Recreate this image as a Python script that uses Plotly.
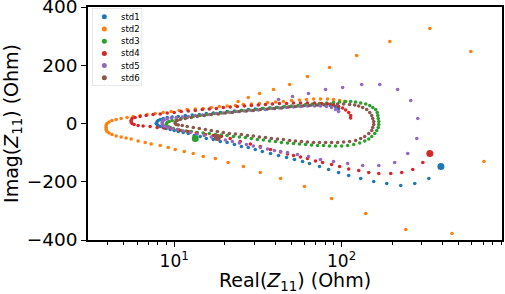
import plotly.graph_objects as go

# ---------------- data (Real(Z11), Imag(Z11)) in Ohm ----------------
names = ["std1", "std2", "std3", "std4", "std5", "std6"]
colors = ["#1f77b4", "#ff7f0e", "#2ca02c", "#d62728", "#9467bd", "#8c564b"]

std1_re = [331.9, 273.5, 225.5, 186, 155.5, 130, 110.2, 95.9, 83.6, 73.8, 64.3, 58.4, 52.3, 46.9, 42.0,
           37.6, 33.6, 30.5, 27.7, 25.2, 22.9, 20.7, 18.85, 17.1, 15.55, 14.3, 13.18, 12.13, 11.32, 10.57,
           10.0, 9.46, 8.96, 8.59, 8.25, 8.02, 7.91, 7.80,
           7.91, 8.02, 8.25, 8.59, 9.08, 9.72, 10.57, 11.64, 12.82, 14.12, 15.55, 17.1, 18.85, 20.7, 22.9,
           25.2, 27.7, 30.5, 33.6, 37.1, 40.8, 44.9, 49.5, 54.5, 60.0, 66.1, 72.8, 79.1, 85.9, 92.0, 95.9]
std1_im = [-188.8, -206, -212.8, -206, -199.1, -188.8, -178.5, -168.2, -157.9, -147.6, -137.3, -130.5,
           -123.6, -116.7, -109.9, -103, -96.1, -89.3, -82.4, -79, -72.1, -65.2, -61.8, -54.9, -51.5,
           -44.6, -41.2, -34.3, -30.9, -27.5, -24, -20.6, -17.2, -13.7, -10.3, -6.9, -3.4, 0,
           6.9, 10.3, 13.7, 17.2, 20.6, 22.3, 24, 27.5, 29.2, 30.9, 34.3, 36, 37.8, 41.2, 42.9, 44.6,
           48.1, 49.8, 51.5, 53.2, 54.9, 56.6, 58.4, 60.1, 61.8, 63.5, 63.5, 63.5, 61.8, 58.4, 51.5]

std2_re = [3.92, 3.92, 3.97, 4.08, 4.25, 4.50, 4.82, 5.23, 5.68, 6.26, 6.89, 7.70, 8.59, 9.59, 10.71,
           11.96, 13.36, 14.9, 16.66, 18.6, 20.7, 23.2, 25.9, 28.9, 32.3, 36.1, 40.3, 44.9, 50.2, 56.0,
           61.7, 68.0, 74.8, 82.4, 89.5, 97.3, 104.2,
           24.1, 27.7, 32.3, 39.2, 48.9, 62.5, 84.7, 123, 194, 336.5, 591, 708,
           3.92, 3.97, 4.08, 4.25, 4.50, 4.82, 5.16, 5.53, 6.09, 6.71, 7.28, 8.25, 9.21, 10.14, 11.48,
           13.0, 14.9, 17.6, 21.0, 25.9, 32.7, 43.2, 60.0, 87.1, 139.3, 241.5, 456]
std2_im = [-13.7, -6.9, 0, 5.1, 10.3, 13.7, 17.2, 20.6, 24, 27.5, 30.9, 34.3, 37.8, 41.2, 44.6, 48.1,
           49.8, 51.5, 54.9, 58.4, 60.1, 61.8, 65.2, 66.9, 68.7, 72.1, 73.8, 75.5, 79, 80.7, 82.4, 84.1,
           84.1, 84.1, 82.4, 79, 75.5,
           75.5, 89.3, 103, 116.7, 133.9, 161.4, 192.2, 233.4, 281.5, 326.1, 247.2, -130.5,
           -20.6, -27.5, -32.6, -37.8, -42.9, -46.3, -49.8, -53.2, -60.1, -65.2, -70.4, -75.5, -82.4,
           -89.3, -96.1, -103, -113.3, -120.2, -133.9, -147.6, -168.2, -188.8, -216.3, -257.5, -309,
           -363.9, -377.6]

std3_re = [8.96, 8.96, 9.08, 9.33, 9.72, 10.28, 11.01, 11.96, 13.0, 14.3, 15.76, 17.36, 19.1, 21.0, 23.2,
           25.5, 28.1, 31.0, 34.1, 37.6, 41.4, 45.6, 50.2, 55.3, 60.9, 67.0, 73.8, 81.3, 89.5, 97.3,
           105.7, 113.2, 121.3, 130, 139.3, 147.2, 153.4, 159.8, 163.2, 164.4, 165.5, 166.7, 166.7,
           165.5, 162.1, 157.7, 151.3, 145.2, 137.4, 128.2, 118, 108.6, 100, 92.0, 84.7, 78.0, 71.8,
           66.1, 60.9, 56.0, 51.6, 47.5, 43.7, 40.3, 37.1, 34.1, 31.4, 28.9, 26.6, 24.5, 22.6, 20.7,
           19.1, 17.6, 16.2, 14.9, 13.73, 12.64, 11.8, 11.01, 10.42, 9.86, 9.46, 9.21]
std3_im = [-6.9, -1.7, 3.4, 6.9, 10.3, 13.7, 17.2, 20.6, 24, 27.5, 30.9, 34.3, 36, 39.5, 41.2, 44.6,
           46.3, 48.1, 51.5, 53.2, 54.9, 58.4, 60.1, 61.8, 65.2, 66.9, 68.7, 70.4, 72.1, 73.8, 75.5,
           75.5, 73.8, 70.4, 66.9, 61.8, 54.9, 48.1, 37.8, 27.5, 17.2, 6.9, -3.4, -13.7, -24, -34.3,
           -44.6, -53.2, -60.1, -66.9, -72.1, -75.5, -77.2, -77.2, -77.2, -75.5, -75.5, -73.8, -72.1,
           -70.4, -68.7, -66.9, -65.2, -61.8, -60.1, -56.6, -54.9, -51.5, -48.1, -46.3, -44.6, -41.2,
           -39.5, -37.8, -34.3, -32.6, -30.9, -27.5, -25.7, -24, -20.6, -17.2, -13.7, -10.3]

std4_re = [5.53, 5.60, 5.84, 6.26, 6.80, 7.48, 8.25, 9.08, 10.0, 11.01, 12.13, 13.36, 14.72, 16.2, 17.85,
           19.65, 21.6, 23.8, 26.3, 28.9, 31.8, 35.1, 38.6, 42.5, 46.9, 51.6, 56.8, 62.5, 68.9, 75.9,
           82.4, 89.5, 95.9, 101.4, 105.7, 110.2, 113.2, 113.2,
           5.53, 5.60, 5.76, 6.09, 6.52, 7.18, 7.91, 8.71, 9.59, 10.71, 12.13, 13.55, 15.35, 17.1, 19.1,
           21.6, 24.8, 28.5, 32.7, 37.6, 43.2, 47.5, 51.6, 56.8, 62.5, 69.8, 76.9, 87.1, 97.3, 110.2,
           126.5, 145.2, 166.7, 196.5, 228.6, 266, 305.5]
std4_im = [10.3, 17.2, 20.6, 24, 27.5, 30.9, 32.6, 36, 37.8, 41.2, 42.9, 44.6, 48.1, 49.8, 51.5, 54.9,
           56.6, 58.4, 60.1, 61.8, 63.5, 65.2, 66.9, 68.7, 68.7, 70.4, 70.4, 70.4, 70.4, 68.7, 66.9,
           63.5, 58.4, 53.2, 46.3, 37.8, 27.5, 18.9,
           5.1, 0, -3.4, -6.9, -8.6, -10.3, -13.7, -15.4, -17.2, -22.3, -27.5, -32.6, -37.8, -41.2,
           -44.6, -51.5, -61.8, -70.4, -79, -89.3, -97.8, -104.7, -109.9, -115, -120.2, -128.7, -133.9,
           -140.8, -147.6, -156.2, -161.4, -168.2, -171.7, -171.7, -168.2, -157.9, -133.9]

std5_re = [8.48, 8.48, 8.71, 9.08, 9.59, 10.28, 11.17, 12.13, 13.36, 14.72, 16.2, 17.85, 19.65, 21.6,
           23.8, 26.3, 28.9, 31.8, 35.1, 38.6, 42.5, 46.9, 51.6, 56.8, 62.5, 68.9, 74.8, 81.3, 87.1,
           92.0, 95.9,
           8.48, 8.59, 8.84, 9.21, 9.72, 10.42, 11.32, 12.47, 13.73, 15.12, 16.66, 18.34, 20.2, 22.25,
           24.5, 27.0, 29.7, 32.7, 36.1, 39.7, 43.2, 47.5, 54.5, 63.4, 74.8, 89.5, 108.6, 133.6, 166.7,
           207.5, 248.3, 281.2,
           285.1, 258.9, 216, 169, 131.8, 101.4, 80.2, 63.4, 50.9, 42.0]
std5_im = [3.4, 8.6, 12, 15.4, 18.9, 20.6, 22.3, 24, 27.5, 29.2, 30.9, 34.3, 36, 37.8, 41.2, 42.9, 44.6,
           46.3, 48.1, 51.5, 53.2, 54.9, 56.6, 58.4, 60.1, 60.1, 60.1, 58.4, 54.9, 48.1, 41.2,
           -1.7, -6.9, -10.3, -13.7, -17.2, -20.6, -25.7, -30.9, -36, -41.2, -46.3, -51.5, -56.6, -61.8,
           -66.9, -72.1, -77.2, -82.4, -87.5, -92.7, -96.1, -99.6, -106.4, -113.3, -123.6, -130.5,
           -137.3, -144.2, -144.2, -133.9, -103, -51.5,
           17.2, 79, 116.7, 133.9, 133.9, 123.6, 116.7, 103, 92.7, 82.4]

std6_re = [10.14, 10.14, 10.42, 10.86, 11.64, 12.64, 13.73, 15.12, 16.66, 18.34, 20.2, 22.25, 24.5, 27.0,
           29.7, 32.7, 36.1, 39.7, 43.7, 48.2, 53.0, 58.4, 64.3, 70.8, 78.0, 85.9, 94.6, 102.8, 111.6,
           119.7, 126.5, 133.6, 141.2, 147.2, 151.3, 153.4, 155.5, 155.5, 153.4, 151.3, 145.2, 137.4,
           130, 121.3, 111.6, 102.8, 94.6, 87.1, 80.2, 73.8, 68.0, 62.5, 57.6, 53.0, 48.9, 44.9, 41.4,
           38.1, 35.1, 32.3, 29.7, 27.4, 25.2, 23.2, 21.35, 19.65, 18.1, 16.66, 15.35, 14.12, 13.0,
           11.96, 11.17, 10.57, 10.28]
std6_im = [0, 5.1, 10.3, 13.7, 17.2, 20.6, 24, 27.5, 30.9, 32.6, 36, 37.8, 41.2, 42.9, 44.6, 48.1, 49.8,
           51.5, 53.2, 56.6, 58.4, 60.1, 61.8, 63.5, 65.2, 66.9, 66.9, 66.9, 65.2, 63.5, 60.1, 54.9,
           48.1, 37.8, 27.5, 17.2, 6.9, -3.4, -13.7, -24, -34.3, -44.6, -51.5, -58.4, -61.8, -63.5,
           -65.2, -65.2, -65.2, -65.2, -65.2, -63.5, -61.8, -60.1, -58.4, -54.9, -53.2, -51.5, -48.1,
           -46.3, -42.9, -41.2, -37.8, -36, -34.3, -30.9, -27.5, -24, -20.6, -17.2, -13.7, -10.3, -6.9,
           -5.1, -3.4]

# highlighted (larger) points
big_series = ["std1", "std3", "std4", "std6"]
big_re = [391.7, 13.36, 336.5, 18.1]
big_im = [-147.6, -51.5, -103, -48.1]

x_tickvals = [10, 100]
x_ticktext = ["10<sup>1</sup>", "10<sup>2</sup>"]
x_minor = [4, 5, 6, 7, 8, 9, 20, 30, 40, 50, 60, 70, 80, 90, 200, 300, 400, 500, 600, 700, 800, 900]
y_tickvals = [-400, -200, 0, 200, 400]

# ---------------- figure ----------------
series = {
    "std1": (std1_re, std1_im), "std2": (std2_re, std2_im), "std3": (std3_re, std3_im),
    "std4": (std4_re, std4_im), "std5": (std5_re, std5_im), "std6": (std6_re, std6_im),
}
cmap = dict(zip(names, colors))

fig = go.Figure()
for n in names:
    re, im = series[n]
    fig.add_trace(go.Scatter(x=re, y=im, mode="markers", name=n,
                             marker=dict(size=3.6, color=cmap[n], line=dict(width=0)),
                             showlegend=False))
for n, r, i in zip(big_series, big_re, big_im):
    fig.add_trace(go.Scatter(x=[r], y=[i], mode="markers", marker=dict(size=7, color=cmap[n]),
                             showlegend=False))

# legend drawn on a small hidden inset axis (upper-left)
fig.add_trace(go.Scatter(x=[12.3] * len(names), y=[8.8 + 12.2 * k for k in range(len(names))],
                         mode="markers", marker=dict(size=5, color=colors),
                         xaxis="x2", yaxis="y2", showlegend=False, hoverinfo="skip"))
for k, n in enumerate(names):
    fig.add_annotation(x=27.0, y=8.8 + 12.2 * k, xref="x2", yref="y2", text=n, showarrow=False,
                       xanchor="left", yanchor="middle", font=dict(size=8.5, color="black"))
fig.add_shape(type="rect", xref="x2", yref="y2", x0=0, x1=50, y0=0, y1=78,
              line=dict(color="#d3d3d3", width=1), fillcolor="white", layer="below")

fig.update_layout(
    width=505, height=294,
    margin=dict(l=88, r=3, t=7, b=54),
    plot_bgcolor="white", paper_bgcolor="white",
    font=dict(family="DejaVu Sans", size=19, color="black"),
    showlegend=False,
    xaxis=dict(type="log", range=[0.485, 2.958], tickvals=x_tickvals, ticktext=x_ticktext,
               ticks="outside", ticklen=5, tickwidth=1.3, tickcolor="black",
               showline=True, mirror=True, linecolor="black", linewidth=1.5,
               showgrid=False, zeroline=False, automargin=False, ticklabeloverflow="allow",
               tickfont=dict(size=17),
               minor=dict(tickvals=x_minor, ticks="outside", ticklen=3, tickwidth=1, tickcolor="black",
                          showgrid=False),
               title=dict(text="Real(<i>Z</i><sub>11</sub>) (Ohm)", standoff=3, font=dict(size=19))),
    yaxis=dict(range=[-400, 400], tickvals=y_tickvals, ticks="outside", ticklen=5, tickwidth=1.3,
               tickcolor="black", showline=True, mirror=True, linecolor="black", linewidth=1.5,
               showgrid=False, zeroline=False, automargin=False, ticklabeloverflow="allow",
               tickfont=dict(size=18.5),
               title=dict(text="Imag(<i>Z</i><sub>11</sub>) (Ohm)", standoff=5, font=dict(size=19))),
    xaxis2=dict(domain=[0.00969, 0.1308], range=[0, 50], visible=False, anchor="y2"),
    yaxis2=dict(domain=[0.661, 0.9957], range=[78, 0], visible=False, anchor="x2"),
)

fig.write_html("out.html", config={"displayModeBar": False},
               post_script="document.body.style.margin='0';document.body.style.overflow='hidden';")
